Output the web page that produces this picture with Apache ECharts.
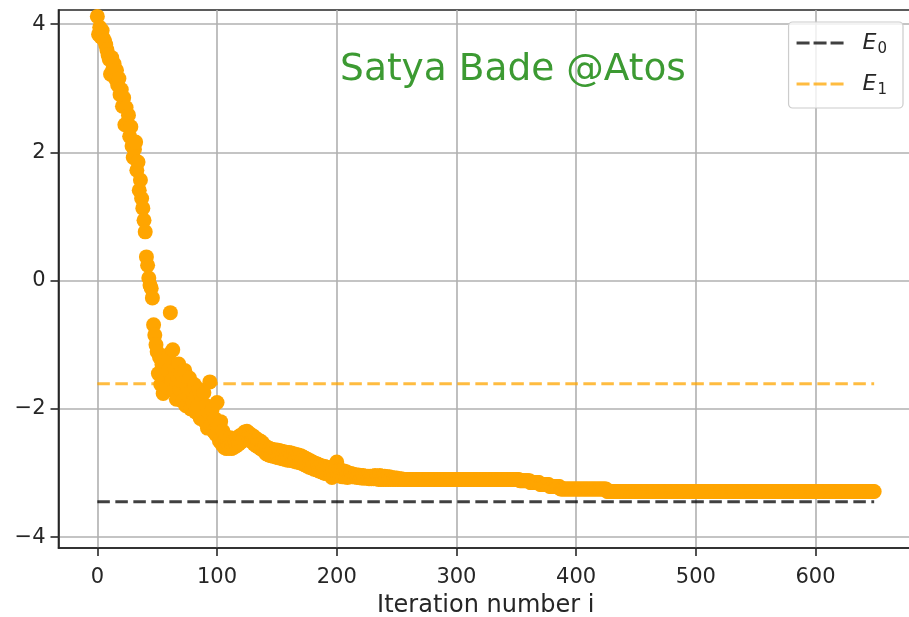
<!DOCTYPE html>
<html>
<head>
<meta charset="utf-8">
<title>Energy per iteration</title>
<script src="https://cdn.jsdelivr.net/npm/echarts@6/dist/echarts.min.js"></script>
<style>
  html, body { margin: 0; padding: 0; background: #ffffff; }
  #chart { width: 909px; height: 617px; }
</style>
</head>
<body>
<div id="chart"></div>
<script>
// Measured energy at each optimisation step, iterations 0..259
const iterationValues = [
  4.12, 3.84, 3.95, 3.80, 3.90, 3.78, 3.74, 3.68, 3.60, 3.52,
  3.45, 3.22, 3.48, 3.30, 3.38, 3.15, 3.28, 3.05, 3.15, 2.90,
  2.98, 2.72, 2.85, 2.43, 2.70, 2.45, 2.58, 2.25, 2.40, 2.10,
  1.92, 2.05, 2.16, 1.72, 1.85, 1.41, 1.57, 1.28, 1.13, 0.94,
  0.76, 0.37, 0.24, 0.04, -0.07, -0.12, -0.27, -0.69, -0.85, -1.00,
  -1.11, -1.45, -1.20, -1.62, -1.31, -1.76, -1.50, -1.30, -1.66, -1.40,
  -1.15, -0.50, -1.55, -1.08, -1.72, -1.39, -1.85, -1.50, -1.30, -1.70,
  -1.45, -1.88, -1.60, -1.40, -1.95, -1.65, -1.80, -1.52, -2.00, -1.72,
  -1.90, -1.62, -2.05, -1.80, -1.95, -1.70, -2.15, -1.88, -2.05, -1.75,
  -2.20, -1.95, -2.30, -2.05, -1.58, -2.25, -2.00, -2.35, -2.15, -2.40,
  -1.90, -2.30, -2.50, -2.20, -2.55, -2.35, -2.60, -2.45, -2.62, -2.50,
  -2.58, -2.45, -2.62, -2.52, -2.60, -2.50, -2.58, -2.45, -2.55, -2.42,
  -2.52, -2.40, -2.48, -2.36, -2.46, -2.35, -2.44, -2.38, -2.50, -2.42,
  -2.42, -2.55, -2.45, -2.58, -2.48, -2.60, -2.50, -2.63, -2.53, -2.65,
  -2.58, -2.70, -2.60, -2.72, -2.62, -2.73, -2.63, -2.74, -2.64, -2.75,
  -2.64, -2.76, -2.65, -2.77, -2.66, -2.78, -2.67, -2.79, -2.68, -2.80,
  -2.68, -2.80, -2.69, -2.81, -2.70, -2.82, -2.71, -2.83, -2.72, -2.84,
  -2.73, -2.85, -2.75, -2.87, -2.77, -2.89, -2.79, -2.91, -2.81, -2.92,
  -2.83, -2.94, -2.85, -2.95, -2.86, -2.97, -2.88, -2.98, -2.89, -3.00,
  -2.90, -3.01, -2.91, -3.02, -2.92, -3.03, -3.07, -2.93, -3.04, -2.94,
  -2.83, -3.04, -2.95, -3.05, -2.96, -3.06, -2.97, -3.06, -2.98, -3.07,
  -3.00, -3.05, -3.01, -3.06, -3.02, -3.06, -3.03, -3.07, -3.03, -3.07,
  -3.04, -3.08, -3.04, -3.08, -3.05, -3.08, -3.05, -3.09, -3.05, -3.09,
  -3.05, -3.09, -3.04, -3.09, -3.05, -3.10, -3.04, -3.10, -3.05, -3.10,
  -3.05, -3.10, -3.06, -3.10, -3.06, -3.10, -3.07, -3.10, -3.08, -3.10,
  -3.08, -3.10, -3.09, -3.10, -3.09, -3.10, -3.10, -3.10, -3.10, -3.10
];

// Converged stretches: [first iteration, energy held until the next entry]
const plateauSteps = [
  [260, -3.10], [353, -3.12], [362, -3.15], [370, -3.18],
  [378, -3.21], [387, -3.25], [426, -3.29]
];
const lastIteration = 649;

// Reference energies
const groundEnergy = -3.45;       // E0
const excitedEnergy = -1.61;      // E1
const referenceSpan = [0, 649];

const xTicks = [0, 100, 200, 300, 400, 500, 600];
const yTicks = [-4, -2, 0, 2, 4];

// Assemble the scatter points
const points = iterationValues.map((v, i) => [i, v]);
plateauSteps.forEach(([start, value], k) => {
  const end = k + 1 < plateauSteps.length ? plateauSteps[k + 1][0] - 1 : lastIteration;
  for (let i = start; i <= end; i++) points.push([i, value]);
});

const FONT = 'DejaVu Sans';
const INK = '#262626';
const minus = v => String(v).replace('-', '\u2212');
// three short dashes, used as the legend handle
const DASH_ICON = 'path://M0,0h13v3h-13z M17,0h13v3h-13z M34,0h13v3h-13z';

const chart = echarts.init(document.getElementById('chart'), null, { renderer: 'canvas' });

chart.setOption({
  animation: false,
  backgroundColor: '#ffffff',
  textStyle: { fontFamily: FONT },
  grid: {
    left: 58.5, top: 10, right: -4, bottom: 69,
    containLabel: false,
    outerBoundsMode: 'none',
    show: true, borderColor: INK, borderWidth: 1.6, backgroundColor: 'transparent'
  },
  xAxis: {
    type: 'value',
    min: -32.45, max: 681.45,
    axisLine: { show: true, onZero: false, lineStyle: { color: INK, width: 1.6 } },
    axisTick: { show: true, customValues: xTicks, length: 8, lineStyle: { color: INK, width: 1.6 } },
    axisLabel: {
      customValues: xTicks, margin: 19, fontSize: 21, color: INK, fontFamily: FONT
    },
    splitLine: { show: true, lineStyle: { color: '#b0b0b0', width: 1.6 } },
    name: 'Iteration number i',
    nameLocation: 'middle',
    nameGap: 46,
    nameTextStyle: { fontSize: 24, color: INK, fontFamily: FONT }
  },
  yAxis: {
    type: 'value',
    min: -4.17, max: 4.22,
    axisLine: { show: true, onZero: false, lineStyle: { color: INK, width: 1.6 } },
    axisTick: { show: true, customValues: yTicks, length: 8, lineStyle: { color: INK, width: 1.6 } },
    axisLabel: {
      customValues: yTicks, margin: 13, fontSize: 21, color: INK, fontFamily: FONT,
      formatter: minus
    },
    splitLine: { show: true, lineStyle: { color: '#b0b0b0', width: 1.6 } }
  },
  legend: {
    orient: 'vertical',
    right: 6, top: 22,
    padding: [10, 16, 10, 8],
    itemGap: 16,
    itemWidth: 47, itemHeight: 3,
    icon: DASH_ICON,
    backgroundColor: 'rgba(255,255,255,0.8)',
    borderColor: '#cccccc', borderWidth: 1.2, borderRadius: 4,
    data: ['E0', 'E1'],
    formatter: name => '{e|E}{s|' + name.slice(1) + '}',
    textStyle: {
      padding: [0, 0, 0, 14],
      rich: {
        e: { fontSize: 22, fontStyle: 'italic', fontFamily: FONT, color: INK, lineHeight: 28 },
        s: { fontSize: 15, fontFamily: FONT, color: INK, lineHeight: 28, verticalAlign: 'bottom', padding: [0, 0, 0, 1] }
      }
    }
  },
  graphic: [{
    type: 'text',
    x: 513, y: 70,
    style: {
      text: 'Satya Bade @Atos',
      fontFamily: FONT, fontSize: 37.5,
      fill: '#3c9a32',
      textAlign: 'center', textVerticalAlign: 'middle'
    },
    z: 100
  }],
  series: [
    {
      name: 'energy',
      type: 'scatter',
      data: points,
      symbol: 'circle',
      symbolSize: 15,
      itemStyle: { color: '#ffa500', opacity: 1 },
      z: 2
    },
    {
      name: 'E0',
      type: 'line',
      data: referenceSpan.map(x => [x, groundEnergy]),
      symbol: 'none',
      lineStyle: { color: 'rgba(0,0,0,0.75)', width: 3, type: [12.5, 5.5] },
      itemStyle: { color: 'rgba(0,0,0,0.75)' },
      z: 3
    },
    {
      name: 'E1',
      type: 'line',
      data: referenceSpan.map(x => [x, excitedEnergy]),
      symbol: 'none',
      lineStyle: { color: 'rgba(255,165,0,0.75)', width: 3, type: [12.5, 5.5] },
      itemStyle: { color: 'rgba(255,165,0,0.75)' },
      z: 3
    }
  ]
});
</script>
</body>
</html>
